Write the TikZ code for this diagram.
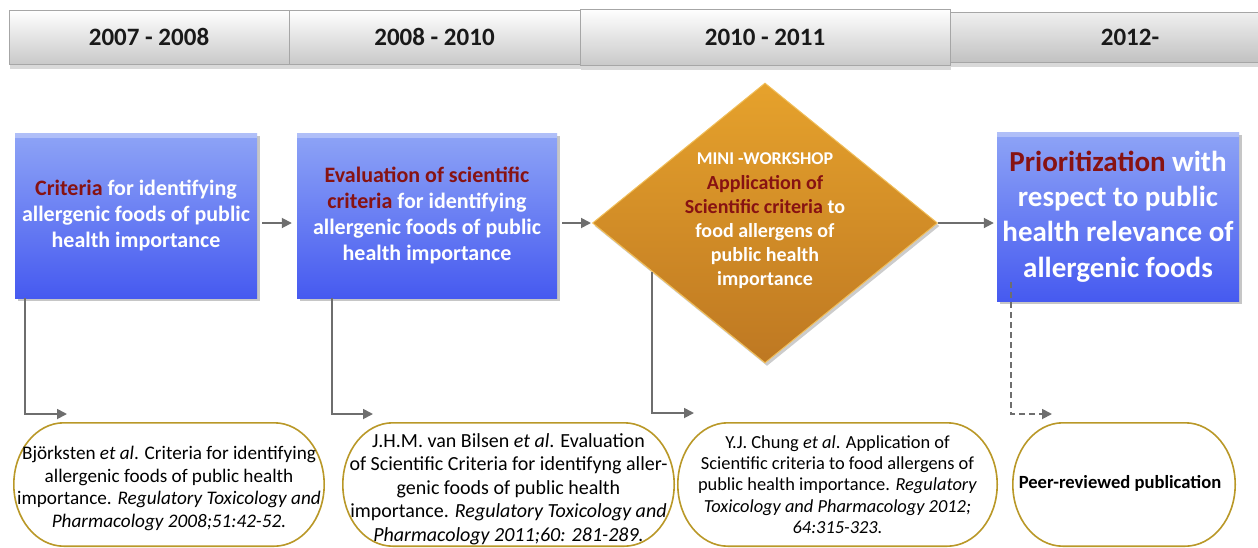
\documentclass[tikz,border=0pt]{standalone}
\usepackage{fontspec}
\setmainfont{Carlito}
\usetikzlibrary{arrows.meta,shapes.geometric,shadows,calc}
\definecolor{dred}{RGB}{135,18,18}
\definecolor{conn}{RGB}{110,110,110}
\definecolor{gold}{RGB}{185,152,40}
\definecolor{bluetop}{RGB}{142,164,246}
\definecolor{bluebot}{RGB}{70,90,240}
\definecolor{orgtop}{RGB}{230,162,44}
\definecolor{orgbot}{RGB}{190,120,34}
\definecolor{orgedge}{RGB}{240,190,90}
\newcommand\myStadium[1]{%
  \draw[goldline] ($(#1.north west)+(50,0)$) -- ($(#1.north east)+(-50,0)$)
    .. controls ($(#1.north east)+(-22.4,0)$) and ($(#1.east)+(0,-34)$) .. (#1.east)
    .. controls ($(#1.east)+(0,34)$) and ($(#1.south east)+(-22.4,0)$) .. ($(#1.south east)+(-50,0)$)
    -- ($(#1.south west)+(50,0)$)
    .. controls ($(#1.south west)+(22.4,0)$) and ($(#1.west)+(0,34)$) .. (#1.west)
    .. controls ($(#1.west)+(0,-34)$) and ($(#1.north west)+(22.4,0)$) .. cycle;}
\begin{document}
\begin{tikzpicture}[x=1pt,y=-1pt,
  hdr/.style={rectangle, draw=black!35, line width=0.8pt, top color=white, bottom color=black!21,
    inner sep=0pt, font=\fontsize{25}{30}\selectfont\bfseries, text=black!90,
    drop shadow={shadow xshift=1pt, shadow yshift=-5pt, opacity=0.3}},
  bluebox/.style={rectangle, draw=none, top color=bluetop, bottom color=bluebot,
    inner sep=0pt, align=center, text=white,
    drop shadow={shadow xshift=3pt, shadow yshift=-3pt, opacity=0.45},
    path picture={\fill[white,opacity=0.3] (path picture bounding box.north west) rectangle ([yshift=-5pt]path picture bounding box.north east);}},
  diam/.style={diamond, minimum width=345pt, minimum height=280pt, inner sep=0pt,
    top color=orgtop, bottom color=orgbot, draw=orgedge, line width=1pt,
    drop shadow={shadow xshift=2pt, shadow yshift=-3pt, opacity=0.4}},
  dtext/.style={align=center, text=white, font=\fontsize{20}{24.2}\selectfont\bfseries},
  refbox/.style={rectangle, draw=none, minimum height=123pt, inner sep=0pt},
  goldline/.style={draw=gold, line width=1.6pt},
  reftext/.style={align=center, text=black, inner sep=0pt},
  conn/.style={draw=conn, line width=1.8pt, -{Triangle[length=10pt,width=10pt]}},
  dconn/.style={conn, dash pattern=on 6pt off 4pt}
]
\useasboundingbox (0,0) rectangle (1258,547);

% header
\node[hdr, minimum width=360pt, minimum height=50pt, top color=black!6, bottom color=black!24] (h4) at (1130,37) {2012-};
\node[hdr, minimum width=280pt, minimum height=54pt] (h1) at (149,37) {2007 - 2008};
\node[hdr, minimum width=291pt, minimum height=54pt] (h2) at (434.5,37) {2008 - 2010};
\node[hdr, minimum width=370pt, minimum height=56pt] (h3) at (765,37) {2010 - 2011};

% main boxes
\node[bluebox, minimum width=242pt, minimum height=165pt, font=\fontsize{22}{26}\selectfont\bfseries] (box1) at (136,215.5)
  {\textcolor{dred}{Criteria} for identifying\\allergenic foods of public\\health importance};
\node[bluebox, minimum width=260pt, minimum height=165pt, font=\fontsize{22}{26}\selectfont\bfseries] (box2) at (427,215.5)
  {\textcolor{dred}{Evaluation of scientific}\\\textcolor{dred}{criteria} for identifying\\allergenic foods of public\\health importance};
\node[diam] (dia) at (765,223) {};
\node[dtext] (diaText) at (765,221)
  {{\fontsize{18}{24}\selectfont MINI -WORKSHOP}\\\textcolor{dred}{Application of}\\\textcolor{dred}{Scientific criteria} to\\food allergens of\\public health\\importance};
\node[bluebox, minimum width=242pt, minimum height=169pt, font=\fontsize{29}{35.3}\selectfont\bfseries] (box4) at (1118,216.5)
  {\textcolor{dred}{Prioritization} with\\respect to public\\health relevance of\\allergenic foods};

% reference boxes
\node[refbox, minimum width=310pt] (refA) at (169,484.5) {};
\node[refbox, minimum width=331pt] (refB) at (508.5,484.5) {};
\node[refbox, minimum width=319pt] (refC) at (837.5,484.5) {};
\node[refbox, minimum width=222pt] (refD) at (1124,484.5) {};
\myStadium{refA}
\myStadium{refB}
\myStadium{refC}
\myStadium{refD}

\node[reftext, font=\fontsize{19.2}{22.5}\selectfont] (tA) at (refA.center |- 0,488.5)
  {Björksten \textit{et al}. Criteria for identifying\\allergenic foods of public health\\importance. \textit{Regulatory Toxicology and}\\\textit{Pharmacology 2008;51:42-52.}};
\node[reftext, font=\fontsize{20}{23.5}\selectfont] (tB) at (refB.center |- 0,489)
  {J.H.M. van Bilsen \textit{et al}. Evaluation\\of Scientific Criteria for identifyng aller-\\genic foods of public health\\importance. \textit{Regulatory Toxicology and}\\\textit{Pharmacology 2011;60: 281-289.}};
\node[reftext, font=\fontsize{18.4}{21.3}\selectfont] (tC) at (refC.center |- 0,484.5)
  {Y.J. Chung \textit{et al}. Application of\\Scientific criteria to food allergens of\\public health importance. \textit{Regulatory}\\\textit{Toxicology and Pharmacology 2012;}\\\textit{64:315-323.}};
\node[reftext, font=\fontsize{18.6}{22}\selectfont\bfseries] (tD) at (1120,483) {Peer-reviewed publication};

% horizontal connectors
\draw[conn, shorten <=5pt, shorten >=5pt] (box1.east |- dia.west) -- (box2.west |- dia.west);
\draw[conn, shorten <=5pt, shorten >=1pt] (box2.east |- dia.west) -- (dia.west);
\draw[conn, shorten >=3pt] (dia.east) -- (box4.west |- dia.east);

% down connectors
\coordinate (tipA) at (67,414);
\coordinate (tipB) at (373,414);
\coordinate (tipC) at (694,413);
\coordinate (tipD) at (1052,414);
\draw[conn] ([xshift=10pt]box1.south west) |- (tipA);
\draw[conn] ([xshift=35pt]box2.south west) |- (tipB);
\draw[conn] ($(dia.west)!0.349!(dia.south)$) |- (tipC);
\draw[dconn] ([xshift=14pt,yshift=19pt]box4.south west) |- (tipD);
\end{tikzpicture}
\end{document}
